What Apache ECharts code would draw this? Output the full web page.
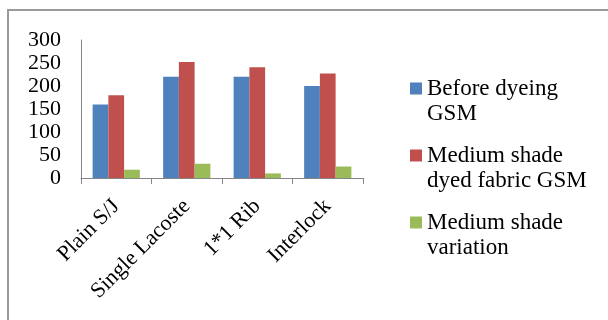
<!DOCTYPE html>
<html><head><meta charset="utf-8">
<script src="https://cdn.jsdelivr.net/npm/echarts@6/dist/echarts.min.js"></script>
<style>html,body{margin:0;padding:0;background:#fff}#c{width:608px;height:320px}</style>
</head><body><div id="c"></div>
<script>
var categories = ['Plain S/J', 'Single Lacoste', '1*1 Rib', 'Interlock'];
var beforeDyeing = [160, 220, 220, 200];
var mediumDyed = [180, 252, 241, 227];
var mediumVariation = [18, 31, 10, 25];
var seriesNames = ['Before dyeing GSM', 'Medium shade dyed fabric GSM', 'Medium shade variation'];
var legendLines = {
  'Before dyeing GSM': ['Before dyeing', 'GSM'],
  'Medium shade dyed fabric GSM': ['Medium shade', 'dyed fabric GSM'],
  'Medium shade variation': ['Medium shade', 'variation']
};
var yTicks = [0, 50, 100, 150, 200, 250, 300];

var chart = echarts.init(document.getElementById('c'));
var font = '"Liberation Serif","Times New Roman",serif';
chart.setOption({
  animation: false,
  color: ['#4F81BD', '#C0504D', '#9BBB59'],
  graphic: [{type:'rect', shape:{x:8,y:10,width:620,height:330}, style:{fill:'none', stroke:'#9a9a9a', lineWidth:2}, silent:true}],
  grid: {left: 81, right: 245, top: 40, bottom: 142},
  legend: {
    orient: 'vertical', left: 405, top: 46, height: 274, itemWidth: 12, itemHeight: 12, itemGap: -8,
    icon: 'rect',
    formatter: function (n) { var l = legendLines[n]; return '{e| }\n{a|' + l[0] + '}\n{a|' + l[1] + '}'; },
    textStyle: {fontFamily: font, fontSize: 23, color: '#000', lineHeight: 25,
      rich: {e: {fontSize: 23, lineHeight: 25, height: 25}, a: {fontFamily: font, fontSize: 23, lineHeight: 25, color: '#000'}}},
    data: seriesNames
  },
  xAxis: {
    type: 'category', data: categories,
    axisLine: {lineStyle: {color: '#868686', width: 1}},
    axisTick: {show: true, length: 6, lineStyle: {color: '#868686'}},
    axisLabel: {rotate: 45, fontFamily: font, fontSize: 22, color: '#000', margin: 25, interval: 0}
  },
  yAxis: {
    type: 'value', min: yTicks[0], max: yTicks[yTicks.length-1], interval: 50,
    axisLine: {show: true, lineStyle: {color: '#868686'}},
    axisTick: {show: false},
    splitLine: {show: false},
    axisLabel: {fontFamily: font, fontSize: 22, color: '#000', margin: 20}
  },
  series: [
    {name: seriesNames[0], type: 'bar', data: beforeDyeing, barGap: '0%', barCategoryGap: '33%'},
    {name: seriesNames[1], type: 'bar', data: mediumDyed},
    {name: seriesNames[2], type: 'bar', data: mediumVariation}
  ]
});
</script></body></html>
